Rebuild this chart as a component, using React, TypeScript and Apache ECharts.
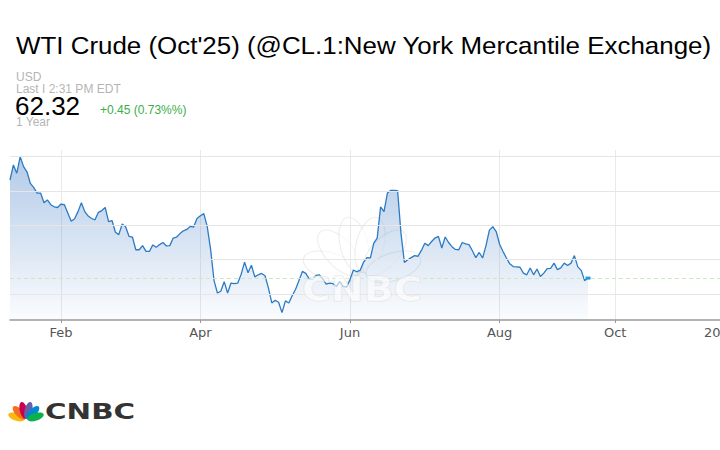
import React, { useEffect, useRef } from "react";
import * as echarts from "echarts";

// ---- Header texts ----
const TITLE = "WTI Crude (Oct'25) (@CL.1:New York Mercantile Exchange)";
const CURRENCY = "USD";
const LAST_TIME = "Last I 2:31 PM EDT";
const LAST_PRICE_TEXT = "62.32";
const CHANGE_TEXT = "+0.45 (0.73%%)";
const RANGE_TEXT = "1 Year";

// ---- Daily settlement values (weekdays from 2025-01-13) ----
const pricesJanMar = [
  76.6, 78.8, 77.6, 80.0, 78.55, 77.8, 76.1, 75.5, 74.7, 74.7,
  73.3, 73.7, 73.0, 72.7, 72.6, 73.1, 73.0, 71.8, 70.6, 70.95,
  72.0, 73.3, 72.0, 71.35, 71.0, 70.8, 71.9, 72.15, 72.6, 70.55,
  70.7, 69.0, 68.65, 70.2, 69.8, 68.4, 68.3, 66.45, 66.45, 67.05,
  66.2, 66.2, 67.15, 66.8,
];
const pricesMarMay = [
  67.2, 67.5, 67.0, 67.05, 68.15, 68.3, 68.8, 69.2, 69.4, 69.85,
  69.75, 71.0, 71.4, 71.7, 69.85, 66.5, 62.0, 60.15, 60.4, 61.8,
  60.15, 61.6, 61.5, 61.6, 62.9, 64.65, 63.1, 64.2, 62.5, 62.8,
  63.0, 62.66, 60.9, 58.7, 59.1, 58.8, 57.3, 59.0, 58.7, 59.75,
  60.7, 61.98, 63.3,
];
const pricesMayJul = [
  63.0, 62.2, 62.2, 62.7, 62.8, 62.2, 61.45, 61.6, 61.5, 61.1,
  61.8, 61.1, 61.0, 62.1, 63.5, 63.25, 63.45, 64.65, 65.3, 65.25,
  67.4, 68.15, 72.7, 72.0, 74.7, 75.1, 75.1, 75.05, 68.8, 64.6,
  65.0, 65.3, 65.6, 65.5, 66.35, 67.4, 67.05, 67.65, 68.15, 68.4,
  66.7, 68.3, 67.5,
];
const pricesJulSep = [
  66.9, 66.5, 66.45, 67.5, 67.3, 67.2, 66.3, 65.3, 66.05, 65.25,
  67.05, 69.3, 69.8, 69.1, 67.25, 66.2, 65.25, 64.4, 64.0, 63.95,
  63.9, 63.05, 62.8, 63.8, 62.8, 63.65, 62.55, 63.05, 63.7, 63.75,
  64.5, 63.55, 63.8, 64.5, 64.15, 64.5, 65.6, 63.95, 63.45, 61.95,
  62.32,
];
const prices = [...pricesJanMar, ...pricesMarMay, ...pricesMayJul, ...pricesJulSep];
const LAST_PRICE = 62.32;

// ---- Axis ----
const gridValues = [60, 65, 70, 75, 80];
const tickDates = ["2025-02-03", "2025-04-01", "2025-06-02", "2025-08-01", "2025-10-01", "2026-01-02"];
const tickLabels = ["Feb", "Apr", "Jun", "Aug", "Oct", "2026"];
const Y_MIN = 56.22;
const Y_MAX = 80.97;

const DAY = 86400000;
const ymd = (t: number) => new Date(t).toISOString().slice(0, 10);

const dates: string[] = [];
{
  let t = Date.UTC(2025, 0, 13);
  while (dates.length < prices.length) {
    const dow = new Date(t).getUTCDay();
    if (dow !== 0 && dow !== 6) dates.push(ymd(t));
    t += DAY;
  }
}
const futureDates: string[] = [];
{
  let t = Date.UTC(2025, 8, 10);
  for (let k = 0; k < 45; k++) {
    futureDates.push(ymd(t));
    t += 3 * DAY;
  }
}
const categories = [...dates, ...futureDates];

const isTick = (_i: number, v: string) => tickDates.includes(v);

const featherColors = ["#fcb711", "#f37021", "#cc004c", "#6460aa", "#0089d0", "#0db14b"];
const featherAngles = [72, 43, 14, -14, -43, -72];

function feathers(colors: string[], opacity: number, rx: number, stroke?: string) {
  return featherAngles.map((a, k) => ({
    type: "group",
    rotation: (a * Math.PI) / 180,
    children: [
      {
        type: "ellipse",
        shape: { cx: 0, cy: -10, rx, ry: 8.6 },
        style: stroke
          ? { fill: colors[k], opacity, stroke, lineWidth: 0.35 }
          : { fill: colors[k], opacity },
      },
    ],
  }));
}

export default function App() {
  const ref = useRef<HTMLDivElement>(null);
  useEffect(() => {
    if (!ref.current) return;
    const chart = echarts.init(ref.current, undefined, { renderer: "svg" });
    const font = '"Liberation Sans", Arial, Helvetica, sans-serif';
    chart.setOption({
      animation: false,
      backgroundColor: "#ffffff",
      textStyle: { fontFamily: font },
      grid: {
        left: 10,
        right: -21,
        top: 150,
        bottom: 130,
        containLabel: false,
        outerBoundsMode: "none",
      },
      xAxis: {
        type: "category",
        data: categories,
        boundaryGap: false,
        axisLine: { lineStyle: { color: "#9a9a9a", width: 1.5 } },
        axisTick: { show: true, interval: isTick, length: 3, lineStyle: { color: "#9a9a9a" } },
        axisLabel: {
          interval: isTick,
          formatter: (v: string) => {
            const k = tickDates.indexOf(v);
            return k >= 0 ? tickLabels[k] : "";
          },
          color: "#555555",
          fontSize: 13,
          fontFamily: "DejaVu Sans",
          margin: 6,
        },
        splitLine: { show: true, interval: isTick, lineStyle: { color: "#e9e9e9", width: 1 } },
      },
      yAxis: { type: "value", min: Y_MIN, max: Y_MAX, show: false },
      series: [
        {
          type: "line",
          data: [],
          z: 1,
          silent: true,
          markLine: {
            silent: true,
            symbol: ["none", "none"],
            label: { show: false },
            lineStyle: { color: "#e6e6e6", width: 1, type: "solid" },
            data: gridValues.map((v) => ({ yAxis: v })),
          },
        },
        {
          type: "line",
          data: prices,
          z: 2,
          showSymbol: false,
          symbol: "none",
          lineStyle: { color: "#2b7bc4", width: 1.3 },
          areaStyle: {
            origin: "start",
            color: new echarts.graphic.LinearGradient(0, 0, 0, 1, [
              { offset: 0, color: "rgba(60,120,195,0.56)" },
              { offset: 1, color: "rgba(60,120,195,0.03)" },
            ]),
          },
          markLine: {
            silent: true,
            symbol: ["none", "none"],
            label: { show: false },
            lineStyle: { color: "#cde8c6", width: 1, type: [4, 3] },
            data: [{ yAxis: LAST_PRICE }],
          },
          markPoint: {
            silent: true,
            symbol: "rect",
            symbolSize: [5, 3],
            itemStyle: { color: "#1b9be0" },
            label: { show: false },
            data: [{ coord: [dates[dates.length - 1], LAST_PRICE] }],
          },
        },
      ],
      graphic: [
        {
          type: "text",
          x: 16,
          y: 45,
          scaleX: 1.08,
          style: { text: TITLE, font: `24px ${font}`, fill: "#000000", verticalAlign: "middle" },
        },
        {
          type: "text",
          x: 16,
          y: 77,
          style: { text: CURRENCY, font: `12px ${font}`, fill: "#b5b5b5", verticalAlign: "middle" },
        },
        {
          type: "text",
          x: 16,
          y: 89,
          style: { text: LAST_TIME, font: `12px ${font}`, fill: "#b5b5b5", verticalAlign: "middle" },
        },
        {
          type: "text",
          x: 15,
          y: 106,
          style: { text: LAST_PRICE_TEXT, font: `26px ${font}`, fill: "#000000", verticalAlign: "middle" },
        },
        {
          type: "text",
          x: 100,
          y: 110,
          style: { text: CHANGE_TEXT, font: `12px ${font}`, fill: "#3cae49", verticalAlign: "middle" },
        },
        {
          type: "text",
          x: 16,
          y: 122,
          style: { text: RANGE_TEXT, font: `12px ${font}`, fill: "#b5b5b5", verticalAlign: "middle" },
        },
        // watermark
        {
          type: "group",
          x: 362,
          y: 277,
          scaleX: 3.3,
          scaleY: 3.3,
          z: 100,
          silent: true,
          children: feathers(featherColors.map(() => "#ffffff"), 0.6, 4.2, "rgba(215,215,215,0.7)"),
        },
        {
          type: "text",
          x: 302,
          y: 290,
          scaleX: 1.19,
          z: 100,
          silent: true,
          style: {
            text: "CNBC",
            font: `bold 33px "DejaVu Sans"`,
            fill: "rgba(255,255,255,0.6)",
            stroke: "rgba(215,215,215,0.6)",
            lineWidth: 1,
            verticalAlign: "middle",
          },
        },
        // bottom logo
        {
          type: "group",
          x: 26,
          y: 420,
          children: feathers(featherColors, 1, 3.8),
        },
        {
          type: "text",
          x: 45,
          y: 412,
          scaleX: 1.4,
          style: { text: "CNBC", font: `bold 21px "DejaVu Sans"`, fill: "#333333", verticalAlign: "middle" },
        },
      ],
    });
    return () => chart.dispose();
  }, []);
  return (
    <div
      ref={ref}
      style={{ position: "absolute", left: 0, top: 0, width: 720, height: 450, background: "#fff" }}
    />
  );
}
